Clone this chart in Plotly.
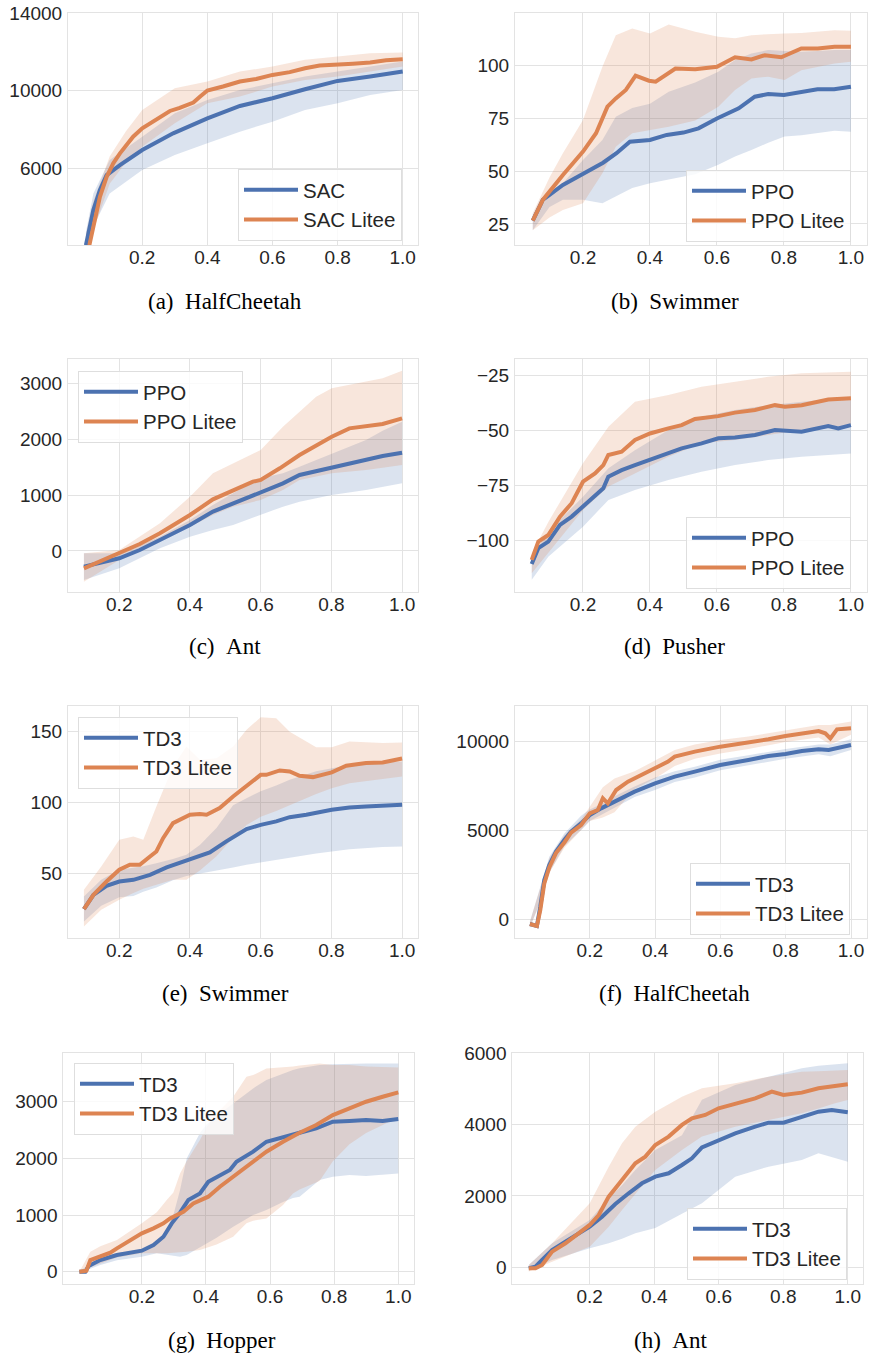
import plotly.graph_objects as go

# ---------------- data ----------------
# (a) HalfCheetah - SAC
a_x_sac = [0.027, 0.0498, 0.070, 0.0907, 0.1315, 0.2, 0.295, 0.4, 0.5, 0.6, 0.7, 0.8, 0.9, 1.0]
a_y_sac = [2031, 3838, 4871, 5645, 6162, 6936, 7797, 8571, 9208, 9604, 10069, 10499, 10723, 10981]
a_x_lit = [0.0376, 0.055, 0.070, 0.0907, 0.111, 0.1315, 0.172, 0.2, 0.244, 0.285, 0.315, 0.357, 0.378, 0.4,
           0.448, 0.5, 0.55, 0.6, 0.653, 0.7, 0.745, 0.8, 0.847, 0.9, 0.949, 1.0]
a_y_lit = [2031, 3494, 4527, 5559, 6248, 6764, 7625, 8055, 8537, 8950, 9105, 9380, 9690, 10000,
           10210, 10465, 10600, 10809, 10950, 11153, 11290, 11325, 11380, 11446, 11560, 11618]
a_xb = [0.027, 0.05, 0.1, 0.15, 0.2, 0.3, 0.4, 0.5, 0.6, 0.7, 0.8, 0.9, 1.0]
a_sac_hi = [2700, 4700, 6420, 7000, 7625, 8830, 9518, 10034, 10379, 10723, 10981, 11240, 11497]
a_sac_lo = [1500, 3000, 4699, 5300, 5904, 6678, 7281, 7883, 8399, 9002, 9346, 9776, 10034]
a_lit_hi = [2600, 4300, 6600, 7900, 9000, 10120, 10465, 10981, 11240, 11584, 11756, 11928, 11962]
a_lit_lo = [1500, 2800, 5200, 6300, 7108, 8313, 9346, 9690, 10207, 10551, 10723, 10981, 11240]

# (b) Swimmer - PPO
b_x_ppo = [0.05, 0.08, 0.14, 0.2, 0.26, 0.3, 0.34, 0.4, 0.45, 0.5, 0.545, 0.6, 0.665, 0.713, 0.753, 0.8, 0.85, 0.9, 0.95, 1.0]
b_y_ppo = [26.6, 36.4, 43.5, 49, 54, 58.5, 64, 64.8, 67.2, 68.3, 70.3, 75, 79.8, 85.3, 86.6, 86.1, 87.5, 88.8, 88.8, 90]
b_x_lit = [0.05, 0.08, 0.14, 0.2, 0.239, 0.273, 0.298, 0.328, 0.357, 0.397, 0.417, 0.456, 0.476, 0.535, 0.6, 0.654,
           0.703, 0.743, 0.792, 0.852, 0.901, 0.951, 1.0]
b_y_lit = [26.6, 36.4, 48.2, 59.3, 68, 80.6, 84.5, 88.5, 95.3, 92.9, 92.4, 96.4, 98.7, 98.3, 99.5, 104,
           103, 105, 104, 108.2, 108.2, 109, 109]
b_xb = [0.05, 0.1, 0.14, 0.2, 0.258, 0.298, 0.347, 0.4, 0.456, 0.535, 0.604, 0.654, 0.703, 0.753, 0.802, 0.852, 0.9, 0.951, 1.0]
b_lit_hi = [30, 47, 58.5, 74.3, 99.5, 114.5, 117.7, 115.3, 119.5, 116.1, 113.7, 113, 114.5, 115, 115.3, 115.5, 116.1, 116.8, 116.6]
b_lit_lo = [22, 28, 31.6, 34.8, 49, 61.6, 68, 69.5, 71.1, 74, 80.6, 88.5, 94, 94.8, 93.2, 97.9, 99.5, 101.1, 101.9]
b_ppo_hi = [29.3, 38, 44.3, 55.3, 64.8, 75.8, 80, 82, 87.7, 92, 97.2, 102.7, 105.8, 107.4, 107, 106.6, 107, 107.4, 107.4]
b_ppo_lo = [22, 33, 36.4, 36.4, 34.8, 37.9, 42, 44.3, 46, 48.5, 53, 57, 60, 63.5, 66.4, 67, 68, 69.2, 68.7]

# (c) Ant - PPO
c_x_ppo = [0.1, 0.145, 0.2, 0.258, 0.315, 0.4, 0.465, 0.522, 0.6, 0.663, 0.71, 0.801, 0.851, 0.898, 0.945, 1.0]
c_y_ppo = [-280, -209, -131, 18, 197, 465, 704, 853, 1061, 1210, 1360, 1491, 1568, 1628, 1700, 1759]
c_x_lit = [0.1, 0.145, 0.2, 0.258, 0.315, 0.4, 0.465, 0.522, 0.578, 0.6, 0.654, 0.71, 0.767, 0.801, 0.851, 0.898, 0.945, 1.0]
c_y_lit = [-310, -191, -42, 125, 316, 644, 924, 1091, 1240, 1270, 1479, 1717, 1926, 2045, 2194, 2236, 2272, 2373]
c_xb = [0.1, 0.2, 0.315, 0.4, 0.465, 0.522, 0.6, 0.663, 0.71, 0.757, 0.801, 0.898, 0.945, 1.0]
c_lit_hi = [-42, 18, 495, 972, 1389, 1568, 1807, 2224, 2493, 2761, 2910, 3029, 3089, 3226]
c_lit_lo = [-549, -161, 197, 435, 644, 793, 912, 1091, 1270, 1330, 1389, 1449, 1490, 1538]
c_ppo_hi = [-42, -42, 256, 555, 823, 1032, 1300, 1389, 1509, 1630, 1747, 1986, 2150, 2314]
c_ppo_lo = [-519, -310, 48, 256, 376, 465, 644, 793, 883, 950, 1002, 1091, 1150, 1210]

# (d) Pusher - PPO
d_x_ppo = [0.0468, 0.0667, 0.0965, 0.1313, 0.1662, 0.2, 0.2358, 0.2607, 0.2756, 0.3154, 0.3552, 0.4, 0.4547, 0.4945,
           0.5542, 0.604, 0.6537, 0.7134, 0.7731, 0.803, 0.8527, 0.9323, 0.9622, 1.0]
d_y_ppo = [-110.8, -103.6, -100.6, -93, -89.2, -84.7, -80.1, -76.3, -71, -68, -65.7, -63.4, -60.4, -58.1,
           -55.8, -53.5, -53.1, -52, -49.7, -50, -50.5, -47.9, -49, -47.5]
d_x_lit = [0.0468, 0.0667, 0.0965, 0.1313, 0.1662, 0.2, 0.2358, 0.2607, 0.2756, 0.3154, 0.3552, 0.4, 0.4547, 0.4945,
           0.5343, 0.604, 0.6537, 0.7134, 0.7731, 0.803, 0.8527, 0.9323, 1.0]
d_y_lit = [-108.9, -100.6, -97.6, -89.2, -83.1, -73.3, -69.5, -65.7, -61.1, -59.6, -54.3, -51.3, -49, -47.5,
           -44.7, -43.4, -41.8, -40.6, -38.4, -39.1, -38.4, -35.8, -35.3]
d_xb = [0.047, 0.097, 0.2, 0.276, 0.355, 0.455, 0.554, 0.654, 0.753, 0.853, 1.0]
d_lit_hi = [-105.9, -91.5, -64.9, -48.2, -36.8, -33.8, -30, -27.7, -25.5, -23.9, -23.2]
d_lit_lo = [-115, -105.9, -86.2, -75.5, -69.5, -61.9, -55.8, -54.3, -52, -49.7, -47.5]
d_ppo_hi = [-107.4, -96, -80.1, -67.2, -58.9, -49.7, -43.7, -40.6, -38.4, -36.8, -34.6]
d_ppo_lo = [-118, -107.4, -93.8, -81.6, -77.1, -72.5, -68.7, -65.7, -63.4, -61.9, -60.4]

# (e) Swimmer - TD3
e_x_td3 = [0.1, 0.127, 0.164, 0.2, 0.24, 0.287, 0.334, 0.4, 0.456, 0.503, 0.56, 0.6, 0.644, 0.682, 0.729,
           0.801, 0.851, 0.898, 0.945, 1.0]
e_y_td3 = [24.7, 34.8, 41.2, 44.2, 45.4, 48.9, 54.1, 59.5, 64.7, 72.5, 81.2, 84.2, 86.6, 89.6, 91.3,
           94.8, 96.5, 97.2, 97.9, 98.4]
e_x_lit = [0.1, 0.127, 0.164, 0.2, 0.23, 0.258, 0.287, 0.305, 0.324, 0.352, 0.4, 0.428, 0.447, 0.484, 0.522,
           0.56, 0.6, 0.616, 0.654, 0.682, 0.71, 0.748, 0.801, 0.842, 0.898, 0.945, 1.0]
e_y_lit = [24.7, 34.8, 44.2, 52.5, 56, 56, 61.9, 65.4, 74.8, 85.4, 91.3, 91.8, 91.3, 96, 104.2,
           111.3, 119.5, 119.5, 122.6, 121.9, 118.8, 117.9, 121.2, 125.9, 127.8, 128.2, 131]
e_xb = [0.1, 0.149, 0.2, 0.24, 0.268, 0.305, 0.352, 0.39, 0.428, 0.475, 0.522, 0.56, 0.6, 0.644, 0.682,
        0.757, 0.801, 0.851, 0.945, 1.0]
e_lit_hi = [38.3, 54.8, 73.6, 76, 73.6, 97.2, 125.4, 139.5, 130.1, 131.3, 139.5, 151.3, 160.2, 159.5, 150,
            139, 139, 143, 142, 142.4]
e_lit_lo = [12.5, 24.2, 31.3, 36, 39, 42, 45.4, 45.4, 52, 62, 75, 84, 90, 94, 98, 106, 110, 113.6, 116.5, 118.4]
e_td3_hi = [33.6, 45.4, 52.5, 54, 55, 57, 60, 63, 70, 82, 98, 103, 108, 112, 116, 122, 124, 126.5, 128.2, 128.9]
e_td3_lo = [16, 27, 33, 34, 37, 40, 45, 48, 50, 52, 54, 56, 57.5, 59.5, 61, 64, 65.4, 67, 68.5, 68.9]

# (f) HalfCheetah - TD3
f_x_td3 = [0.0166, 0.0299, 0.0381, 0.0484, 0.0607, 0.076, 0.0965, 0.1221, 0.1426, 0.1734, 0.2, 0.2348, 0.2758,
           0.3373, 0.3998, 0.4602, 0.5217, 0.5996, 0.6857, 0.7471, 0.7994, 0.8496, 0.9008, 0.9316, 1.0]
f_y_td3 = [-281, -337, -393, 693, 2191, 3034, 3783, 4438, 4906, 5375, 5843, 6217, 6592,
           7154, 7622, 7996, 8277, 8652, 8933, 9157, 9270, 9438, 9532, 9494, 9775]
f_x_lit = [0.0166, 0.0381, 0.0484, 0.0607, 0.076, 0.0965, 0.1221, 0.1426, 0.1734, 0.2, 0.2246, 0.24, 0.2553, 0.2809,
           0.3168, 0.3578, 0.3998, 0.4398, 0.4602, 0.5217, 0.5996, 0.6857, 0.7471, 0.7994, 0.8496, 0.9008, 0.9213,
           0.9367, 0.9572, 1.0]
f_y_lit = [-281, -393, 500, 2000, 2900, 3700, 4300, 4850, 5281, 5936, 6124, 6779, 6498, 7247,
           7715, 8090, 8464, 8839, 9120, 9401, 9682, 9906, 10094, 10281, 10393, 10562, 10431,
           10150, 10655, 10712]
f_xb = [0.0166, 0.0504, 0.076, 0.1221, 0.1734, 0.2, 0.24, 0.2758, 0.3373, 0.3998, 0.4602, 0.5217, 0.5996,
        0.6857, 0.7994, 0.9008, 0.9367, 1.0]
f_lit_hi = [-150, 1800, 3400, 4700, 5600, 6300, 7400, 7900, 8300, 8900, 9500, 9800, 10050, 10250, 10600, 10900, 10900, 11100]
f_lit_lo = [-450, 1000, 2600, 4000, 5000, 5500, 5700, 6000, 7300, 7900, 8600, 9000, 9300, 9550, 9950, 10200, 9800, 10350]
f_td3_hi = [-150, 1900, 3500, 4800, 5800, 6150, 6500, 6900, 7450, 7950, 8300, 8550, 8950, 9200, 9550, 9800, 9800, 10100]
f_td3_lo = [-500, 1100, 2600, 4100, 5000, 5500, 5900, 6250, 6850, 7250, 7700, 7950, 8350, 8650, 9000, 9250, 9150, 9500]

# (g) Hopper - TD3
g_x_td3 = [0.0052, 0.0238, 0.0342, 0.0705, 0.1223, 0.1741, 0.2, 0.2363, 0.2674, 0.2933, 0.3192, 0.3451, 0.3813,
           0.4073, 0.4435, 0.4746, 0.4953, 0.5472, 0.5886, 0.6404, 0.6922, 0.744, 0.7959, 0.8477, 0.8995, 0.9513, 1.0]
g_y_td3 = [0, 0, 100, 206, 294, 353, 371, 471, 618, 853, 1041, 1265, 1382,
           1588, 1706, 1794, 1941, 2118, 2294, 2382, 2453, 2529, 2647, 2659, 2676, 2659, 2694]
g_x_lit = [0.0052, 0.027, 0.0394, 0.0705, 0.1016, 0.1223, 0.1741, 0.2, 0.2363, 0.2674, 0.2881, 0.3295, 0.3606,
           0.4073, 0.4435, 0.485, 0.5368, 0.5886, 0.6404, 0.6922, 0.744, 0.7959, 0.8477, 0.8995, 0.9513, 1.0]
g_y_lit = [0, 18, 206, 265, 335, 412, 588, 676, 765, 853, 941, 1059, 1206,
           1324, 1500, 1676, 1882, 2118, 2294, 2453, 2588, 2765, 2882, 3000, 3088, 3165]
g_xb = [0.0052, 0.0394, 0.0705, 0.1223, 0.2, 0.2466, 0.2777, 0.2984, 0.3192, 0.3399, 0.3813, 0.402, 0.4332,
        0.485, 0.5264, 0.5472, 0.5886, 0.6404, 0.6715, 0.6922, 0.7544, 0.7959, 0.8477, 0.8995, 1.0]
g_lit_hi = [0, 353, 450, 559, 853, 1050, 1265, 1400, 1735, 1950, 2324, 2550, 2794,
            3088, 3441, 3470, 3588, 3600, 3620, 3640, 3676, 3647, 3647, 3620, 3606]
g_lit_lo = [0, 80, 147, 250, 324, 324, 324, 330, 340, 350, 382, 420, 480,
            618, 853, 900, 941, 1176, 1382, 1450, 1600, 1950, 2250, 2450, 2720]
g_td3_hi = [0, 150, 265, 330, 382, 500, 700, 1000, 1441, 2000, 2450, 2600, 2750,
            2971, 3147, 3235, 3382, 3500, 3560, 3590, 3647, 3660, 3670, 3676, 3676]
g_td3_lo = [0, 50, 118, 200, 265, 324, 300, 280, 265, 294, 420, 500, 600,
            794, 930, 1000, 1088, 1230, 1300, 1324, 1620, 1676, 1706, 1690, 1735]

# (h) Ant - TD3
h_x_td3 = [0.0111, 0.0318, 0.0524, 0.0834, 0.1247, 0.1659, 0.2, 0.2382, 0.2795, 0.3207, 0.362, 0.4033, 0.4446,
           0.4859, 0.5168, 0.5478, 0.5994, 0.651, 0.7129, 0.7542, 0.8006, 0.8574, 0.909, 0.9503, 1.0]
h_y_td3 = [-28, 19, 206, 486, 720, 953, 1140, 1421, 1776, 2075, 2355, 2542, 2636,
           2869, 3056, 3364, 3570, 3757, 3944, 4056, 4056, 4206, 4364, 4411, 4346]
h_x_lit = [0.0111, 0.0318, 0.0524, 0.0834, 0.1247, 0.1659, 0.2, 0.2279, 0.2588, 0.3001, 0.3414, 0.3723, 0.4033,
           0.4446, 0.4859, 0.5168, 0.5581, 0.5994, 0.651, 0.7129, 0.7645, 0.8006, 0.8574, 0.909, 1.0]
h_y_lit = [-28, -28, 65, 439, 673, 953, 1187, 1467, 1981, 2449, 2916, 3103, 3430,
           3664, 3991, 4178, 4271, 4458, 4598, 4738, 4925, 4832, 4897, 5019, 5131]
h_xb = [0.0111, 0.0834, 0.2, 0.2588, 0.3001, 0.3414, 0.4033, 0.4859, 0.5478, 0.651, 0.7542, 0.8574, 0.909, 0.9606, 1.0]
h_lit_hi = [65, 673, 1794, 2822, 3477, 3944, 4364, 4785, 5019, 5159, 5346, 5486, 5500, 5520, 5533]
h_lit_lo = [-121, 159, 579, 1140, 1607, 2075, 2729, 3290, 3664, 3944, 4131, 4318, 4450, 4600, 4692]
h_td3_hi = [65, 673, 1327, 1935, 2300, 2729, 3290, 3700, 4700, 5112, 5346, 5579, 5650, 5700, 5720]
h_td3_lo = [-75, 206, 533, 673, 800, 953, 1100, 1500, 1794, 2542, 2822, 3009, 3196, 3056, 2963]

x_ticks = [0.2, 0.4, 0.6, 0.8, 1.0]
x_tick_text = ["0.2", "0.4", "0.6", "0.8", "1.0"]

# ---------------- styling / layout ----------------
W, H = 870, 1356
BLUE, ORANGE = "#4C72B0", "#DD8452"
BLUE_FILL, ORANGE_FILL = "rgba(76,114,176,0.2)", "rgba(221,132,82,0.2)"
GRID = "#e3e3e3"
TXT = "#262626"
SANS = "Liberation Sans, Arial, sans-serif"
SERIF = "Liberation Serif, Times New Roman, serif"

panels = [
    dict(cap="(a)\u00a0\u00a0HalfCheetah", names=("SAC", "SAC Litee"),
         base=(a_x_sac, a_y_sac, a_sac_lo, a_sac_hi), lite=(a_x_lit, a_y_lit, a_lit_lo, a_lit_hi), xb=a_xb,
         px=(68, 418), py=(13, 245), xr=(-0.028, 1.047), yr=(2040, 14000),
         yt=[6000, 10000, 14000], ytt=["6000", "10000", "14000"],
         leg=(238, 169), capc=(225, 301)),
    dict(cap="(b)\u00a0\u00a0Swimmer", names=("PPO", "PPO Litee"),
         base=(b_x_ppo, b_y_ppo, b_ppo_lo, b_ppo_hi), lite=(b_x_lit, b_y_lit, b_lit_lo, b_lit_hi), xb=b_xb,
         px=(515, 867), py=(13, 245), xr=(-0.003, 1.048), yr=(15, 125),
         yt=[25, 50, 75, 100], ytt=["25", "50", "75", "100"],
         leg=(686, 170), capc=(674.5, 301)),
    dict(cap="(c)\u00a0\u00a0Ant", names=("PPO", "PPO Litee"),
         base=(c_x_ppo, c_y_ppo, c_ppo_lo, c_ppo_hi), lite=(c_x_lit, c_y_lit, c_lit_lo, c_lit_hi), xb=c_xb,
         px=(68, 418), py=(359.3, 592.3), xr=(0.055, 1.045), yr=(-739, 3429),
         yt=[0, 1000, 2000, 3000], ytt=["0", "1000", "2000", "3000"],
         leg=(78, 371), capc=(225.3, 646.7)),
    dict(cap="(d)\u00a0\u00a0Pusher", names=("PPO", "PPO Litee"),
         base=(d_x_ppo, d_y_ppo, d_ppo_lo, d_ppo_hi), lite=(d_x_lit, d_y_lit, d_lit_lo, d_lit_hi), xb=d_xb,
         px=(515, 867), py=(359.3, 592.3), xr=(-0.003, 1.048), yr=(-123.7, -17.5),
         yt=[-100, -75, -50, -25], ytt=["\u2212100", "\u221275", "\u221250", "\u221225"],
         leg=(686, 517), capc=(674.5, 646.7)),
    dict(cap="(e)\u00a0\u00a0Swimmer", names=("TD3", "TD3 Litee"),
         base=(e_x_td3, e_y_td3, e_td3_lo, e_td3_hi), lite=(e_x_lit, e_y_lit, e_lit_lo, e_lit_hi), xb=e_xb,
         px=(68, 418), py=(706, 938.3), xr=(0.055, 1.045), yr=(4.1, 168.1),
         yt=[50, 100, 150], ytt=["50", "100", "150"],
         leg=(78, 717), capc=(225.8, 993.3)),
    dict(cap="(f)\u00a0\u00a0HalfCheetah", names=("TD3", "TD3 Litee"),
         base=(f_x_td3, f_y_td3, f_td3_lo, f_td3_hi), lite=(f_x_lit, f_y_lit, f_lit_lo, f_lit_hi), xb=f_xb,
         px=(515, 867), py=(706, 938.3), xr=(-0.029, 1.049), yr=(-1084, 11966),
         yt=[0, 5000, 10000], ytt=["0", "5000", "10000"],
         leg=(690, 863), capc=(674, 993.3)),
    dict(cap="(g)\u00a0\u00a0Hopper", names=("TD3", "TD3 Litee"),
         base=(g_x_td3, g_y_td3, g_td3_lo, g_td3_hi), lite=(g_x_lit, g_y_lit, g_lit_lo, g_lit_hi), xb=g_xb,
         px=(63.3, 414.3), py=(1052.7, 1284), xr=(-0.045, 1.05), yr=(-217, 3865),
         yt=[0, 1000, 2000, 3000], ytt=["0", "1000", "2000", "3000"],
         leg=(74, 1063), capc=(222, 1340)),
    dict(cap="(h)\u00a0\u00a0Ant", names=("TD3", "TD3 Litee"),
         base=(h_x_td3, h_y_td3, h_td3_lo, h_td3_hi), lite=(h_x_lit, h_y_lit, h_lit_lo, h_lit_hi), xb=h_xb,
         px=(512.3, 863.3), py=(1052.7, 1284), xr=(-0.04, 1.048), yr=(-468, 6017),
         yt=[0, 2000, 4000, 6000], ytt=["0", "2000", "4000", "6000"],
         leg=(687, 1208), capc=(670.8, 1340)),
]

fig = go.Figure()
layout = dict(width=W, height=H, margin=dict(l=0, r=0, t=0, b=0, pad=0, autoexpand=False),
              paper_bgcolor="white", plot_bgcolor="white", showlegend=True,
              annotations=[])

for i, p in enumerate(panels, start=1):
    sfx = "" if i == 1 else str(i)
    xa, ya = "x" + sfx, "y" + sfx
    lg = "legend" + sfx
    xb = p["xb"]
    # bands
    for (xs, ys, lo, hi), fc in ((p["base"], BLUE_FILL), (p["lite"], ORANGE_FILL)):
        fig.add_trace(go.Scatter(x=list(xb) + list(xb)[::-1], y=list(hi) + list(lo)[::-1],
                                 fill="toself", fillcolor=fc, line=dict(width=0, color=fc),
                                 mode="lines", hoverinfo="skip", showlegend=False,
                                 xaxis=xa, yaxis=ya))
    # mean lines
    for (xs, ys, lo, hi), col, nm in ((p["base"], BLUE, p["names"][0]), (p["lite"], ORANGE, p["names"][1])):
        fig.add_trace(go.Scatter(x=xs, y=ys, mode="lines", name=nm,
                                 line=dict(color=col, width=4), xaxis=xa, yaxis=ya,
                                 legend=lg, showlegend=True))
    x0, x1 = p["px"]
    y0, y1 = p["py"]
    axis_common = dict(showgrid=True, gridcolor=GRID, gridwidth=1, showline=True, mirror=True,
                       linecolor=GRID, linewidth=1, zeroline=False, ticks="", automargin=False,
                       tickfont=dict(family=SANS, size=19, color=TXT))
    layout["xaxis" + sfx] = dict(domain=[x0 / W, x1 / W], range=list(p["xr"]), anchor=ya,
                                 tickmode="array", tickvals=x_ticks, ticktext=x_tick_text,
                                 ticklabelstandoff=-5, **axis_common)
    layout["yaxis" + sfx] = dict(domain=[1 - y1 / H, 1 - y0 / H], range=list(p["yr"]), anchor=xa,
                                 tickmode="array", tickvals=p["yt"], ticktext=p["ytt"],
                                 ticklabelstandoff=1, **axis_common)
    lx, ly = p["leg"]
    layout[lg] = dict(x=lx / W, y=1 - ly / H, xanchor="left", yanchor="top", xref="paper", yref="paper",
                      bgcolor="rgba(255,255,255,0.8)", bordercolor="#dedede", borderwidth=1,
                      font=dict(family=SANS, size=20.5, color=TXT), itemwidth=54, tracegroupgap=0)
    cx, cy = p["capc"]
    layout["annotations"].append(dict(text=p["cap"], x=cx / W, y=1 - cy / H, xref="paper", yref="paper",
                                      showarrow=False, xanchor="center", yanchor="middle",
                                      font=dict(family=SERIF, size=23, color="black")))

fig.update_layout(**layout)
fig.write_html("out.html", config={"displayModeBar": False},
               post_script="document.documentElement.style.margin='0';document.body.style.margin='0';"
                           "document.body.style.overflow='hidden';document.documentElement.style.overflow='hidden';")
